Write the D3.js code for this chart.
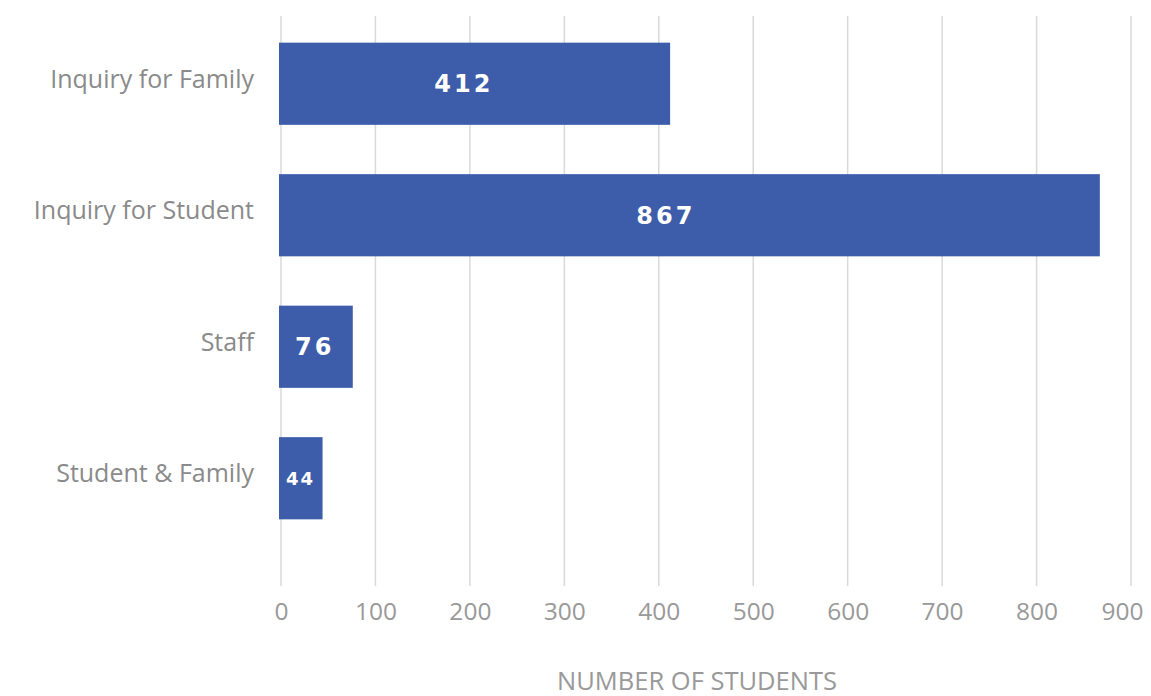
<!DOCTYPE html>
<html>
<head>
<meta charset="utf-8">
<script src="https://cdn.jsdelivr.net/npm/d3@7"></script>
<style>
  html, body { margin: 0; padding: 0; background: #fff; }
  svg { display: block; }
</style>
</head>
<body>
<svg id="chart" width="1151" height="696"></svg>
<script>
const categories = ["Inquiry for Family", "Inquiry for Student", "Staff", "Student & Family"];
const values = [412, 867, 76, 44];
const tickValues = [0, 100, 200, 300, 400, 500, 600, 700, 800, 900];
const axisTitle = "NUMBER OF STUDENTS";

const W = 1151;
const svg = d3.select("#chart");
const x = d3.scaleLinear().domain([0, 900]).range([281, 1131]);
const y = d3.scaleBand().domain(categories).range([18, 544]).paddingInner(0.375).paddingOuter(0.1875);

// gridlines
svg.append("g").selectAll("line").data(tickValues).join("line")
  .attr("x1", d => x(d)).attr("x2", d => x(d))
  .attr("y1", 16).attr("y2", 586)
  .attr("stroke", "#d9d9d9").attr("stroke-width", 1.5);

// x axis tick labels
const xAxis = d3.axisBottom(x).tickValues(tickValues).tickSize(0).tickPadding(0).tickFormat(d3.format("d"));
const gx = svg.append("g").attr("transform", "translate(0,603)").call(xAxis);
gx.select(".domain").remove();
gx.selectAll("text")
  .attr("dy", "0.71em")
  .attr("fill", "#999")
  .style("font-family", "'Open Sans', sans-serif")
  .style("font-size", "24.5px");
// keep the last label inside the picture
gx.selectAll(".tick").each(function(d) {
  const t = d3.select(this).select("text");
  const bb = this.getBBox();
  const right = x(d) + bb.x + bb.width;
  if (right > W - 8) t.attr("x", (W - 8) - right);
});

// y axis labels
const yAxis = d3.axisLeft(y).tickSize(0).tickPadding(27);
const gy = svg.append("g").attr("transform", `translate(${x(0)},0)`).call(yAxis);
gy.select(".domain").remove();
gy.selectAll("text")
  .attr("dy", "0.15em")
  .attr("fill", "#8a8a8a")
  .style("font-family", "'Open Sans', sans-serif")
  .style("font-size", "25px");

// bars
const rows = categories.map((c, i) => ({ c, v: values[i] }));
svg.append("g").selectAll("rect").data(rows).join("rect")
  .attr("x", x(0) - 2)
  .attr("y", d => y(d.c))
  .attr("width", d => x(d.v) - x(0) + 2)
  .attr("height", y.bandwidth())
  .attr("fill", "#3d5daa");

// value labels
svg.append("g").selectAll("text").data(rows).join("text")
  .attr("x", d => x(0) + (x(d.v) - x(0)) * 0.47)
  .attr("y", d => y(d.c) + y.bandwidth() / 2)
  .attr("dy", "0.36em")
  .attr("text-anchor", "middle")
  .attr("fill", "#fff")
  .style("font-family", "'DejaVu Sans', sans-serif")
  .style("font-weight", "bold")
  .style("font-size", d => d.v < 60 ? "18px" : "24px")
  .style("letter-spacing", d => d.v < 60 ? "2px" : "3px")
  .text(d => d.v);

// axis title
svg.append("text")
  .attr("x", 697).attr("y", 690)
  .attr("text-anchor", "middle")
  .attr("fill", "#999")
  .style("font-family", "'Open Sans', sans-serif")
  .style("font-size", "25.5px")
  .text(axisTitle);
</script>
</body>
</html>
